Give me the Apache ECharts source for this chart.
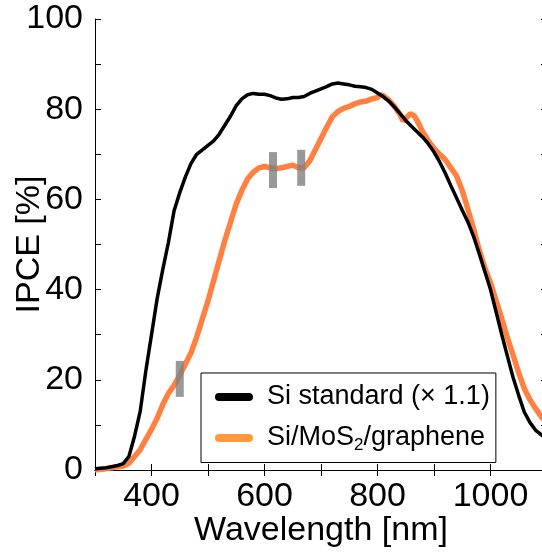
<!DOCTYPE html>
<html>
<head>
<meta charset="utf-8">
<script src="https://cdn.jsdelivr.net/npm/echarts@6/dist/echarts.min.js"></script>
<style>
  html, body { margin: 0; padding: 0; background: #fff; }
  #chart { width: 542px; height: 560px; }
</style>
</head>
<body>
<div id="chart"></div>
<script>
// 读图得到的数据
const siWl = [300, 320, 340, 350, 360, 370, 380, 390, 400, 410, 420, 430, 440, 450, 460, 470, 480, 490, 500,
  510, 520, 530, 540, 550, 560, 570, 580, 590, 600, 610, 620, 630, 640, 650, 660, 670, 680, 690, 700,
  710, 720, 730, 740, 750, 760, 770, 780, 790, 800, 810, 820, 830, 840, 850, 860, 870, 880, 890, 900,
  910, 920, 930, 940, 950, 960, 970, 980, 990, 1000, 1010, 1020, 1030, 1040, 1050, 1060, 1070, 1080, 1090, 1100];
const siIpce = [0.3, 0.5, 1.0, 1.4, 3, 7.5, 13, 22, 30, 38, 44.5, 50.5, 57.5, 61.5, 65, 68, 70, 71, 72,
  73, 74.5, 76.5, 78.5, 80.8, 82.3, 83.2, 83.5, 83.3, 83.3, 83, 82.5, 82.2, 82.3, 82.6, 82.6, 82.8, 83.5, 84, 84.5,
  85, 85.6, 85.8, 85.6, 85.4, 85.1, 85, 84.8, 84.4, 83.6, 82.8, 81.8, 80.5, 79, 77.5, 76.2, 75, 73.8, 72.3, 70.5,
  68.3, 65.8, 63, 60.3, 57.6, 55, 51.8, 48, 44, 40, 35, 30, 25.2, 20.5, 16.5, 12.8, 10.5, 8.8, 7.8, 6.8];

const mosWl = [300, 320, 340, 350, 360, 370, 380, 390, 400, 410, 420, 430, 440, 450, 460, 470, 480, 490, 500,
  510, 520, 530, 540, 550, 560, 570, 580, 590, 600, 610, 620, 630, 640, 650, 660, 670, 680, 690, 700,
  710, 720, 730, 740, 750, 760, 770, 780, 790, 800, 805, 810, 820, 830, 840, 845, 850, 858, 865, 870, 880, 890, 900,
  910, 920, 930, 940, 950, 960, 970, 980, 990, 1000, 1010, 1020, 1030, 1040, 1050, 1060, 1070, 1080, 1090, 1100];
const mosIpce = [0, 0.3, 0.7, 0.9, 1.5, 3, 4.5, 6.8, 9, 11.5, 14.5, 17, 18.8, 21, 23.5, 26, 29.5, 33.5, 37.5,
  42, 46.5, 51, 55, 59, 62, 64.5, 66, 67, 67.3, 67, 66.8, 67, 67.3, 67.6, 67, 67, 68.5, 71, 73.5,
  76, 78.3, 79.5, 80.2, 80.6, 81.2, 81.6, 81.8, 82.3, 82.6, 83.2, 83, 82, 80.6, 78.8, 77.4, 78, 79, 78.5, 77.5, 75, 73, 71.3,
  70, 68.8, 67, 65.2, 62, 57.8, 53.5, 48.8, 44.8, 41.5, 37.5, 33.5, 29.3, 25.5, 21.5, 18, 15.5, 13.6, 11.8, 10.5];

// 灰色标记位置
const markWl = [450, 615, 665];
const markIpce = [20.2, 66.5, 67];

const seriesNames = ['Si standard (× 1.1)', 'Si/MoS2/graphene'];

const zip = (xs, ys) => xs.map((x, i) => [x, ys[i]]);

const font = 'Liberation Sans, Arial, sans-serif';
const pill = 'path://M4,0 L34,0 A4,4 0 0 1 34,8 L4,8 A4,4 0 0 1 4,0 Z';

const chart = echarts.init(document.getElementById('chart'));

const baseX = {
  type: 'value', min: 300, max: 1100, interval: 100,
  axisLine: { lineStyle: { color: '#000', width: 1 } },
  axisTick: { inside: true, length: 6, lineStyle: { color: '#000' } },
  splitLine: { show: false }
};
const baseY = {
  type: 'value', min: 0, max: 100, interval: 20,
  axisLine: { lineStyle: { color: '#000', width: 1 } },
  axisTick: { inside: true, length: 6, lineStyle: { color: '#000' } },
  minorTick: { show: true, splitNumber: 2, length: 6, lineStyle: { color: '#000' } },
  splitLine: { show: false }
};

const option = {
  animation: false,
  grid: { left: 95, top: 19, width: 452, height: 451, containLabel: false, outerBoundsMode: 'none' },
  xAxis: [
    Object.assign({}, baseX, {
      position: 'bottom',
      name: 'Wavelength [nm]', nameLocation: 'middle', nameGap: 44, nameMoveOverlap: false,
      nameTextStyle: { fontFamily: font, fontSize: 34, color: '#000' },
      axisLabel: {
        fontFamily: font, fontSize: 34, color: '#000', margin: 10,
        formatter: v => (v % 200 === 0 && v > 300 && v < 1100) ? String(v) : ''
      }
    }),
    Object.assign({}, baseX, { position: 'top', axisLabel: { show: false } })
  ],
  yAxis: [
    Object.assign({}, baseY, {
      position: 'left',
      name: 'IPCE [%]', nameLocation: 'middle', nameGap: 48, nameMoveOverlap: false,
      nameTextStyle: { fontFamily: font, fontSize: 34, color: '#000' },
      axisLabel: { fontFamily: font, fontSize: 34, color: '#000', margin: 12 }
    }),
    Object.assign({}, baseY, { position: 'right', axisLabel: { show: false } })
  ],
  legend: {
    orient: 'vertical',
    left: 201, top: 373,
    padding: [9, 6, 9, 14],
    itemGap: 11,
    itemWidth: 38, itemHeight: 8,
    borderColor: '#000', borderWidth: 1,
    backgroundColor: '#fff',
    data: [
      { name: seriesNames[0], icon: pill, itemStyle: { color: '#000' } },
      { name: seriesNames[1], icon: pill, itemStyle: { color: '#FF9A3C' } }
    ],
    formatter: name => name === 'Si/MoS2/graphene' ? 'Si/MoS{sub|2}/graphene' : name,
    textStyle: {
      fontFamily: font, fontSize: 27, color: '#000', lineHeight: 30,
      padding: [0, 0, 0, 9],
      rich: {
        sub: { fontFamily: font, fontSize: 17, color: '#000', padding: [14, 0, 0, 0] }
      }
    }
  },
  series: [
    {
      name: seriesNames[0], type: 'line', data: zip(siWl, siIpce),
      showSymbol: false, symbol: 'none', smooth: false, z: 3,
      lineStyle: { color: '#000', width: 3.5 }, itemStyle: { color: '#000' }
    },
    {
      name: seriesNames[1], type: 'line', data: zip(mosWl, mosIpce),
      showSymbol: false, symbol: 'none', smooth: false, z: 2,
      lineStyle: { color: '#FF8040', width: 5.5 }, itemStyle: { color: '#FF8040' }
    },
    {
      name: 'marks', type: 'scatter', data: zip(markWl, markIpce),
      symbol: 'rect', symbolSize: [8, 36], z: 4,
      itemStyle: { color: '#808080' }
    }
  ]
};

chart.setOption(option);
</script>
</body>
</html>
